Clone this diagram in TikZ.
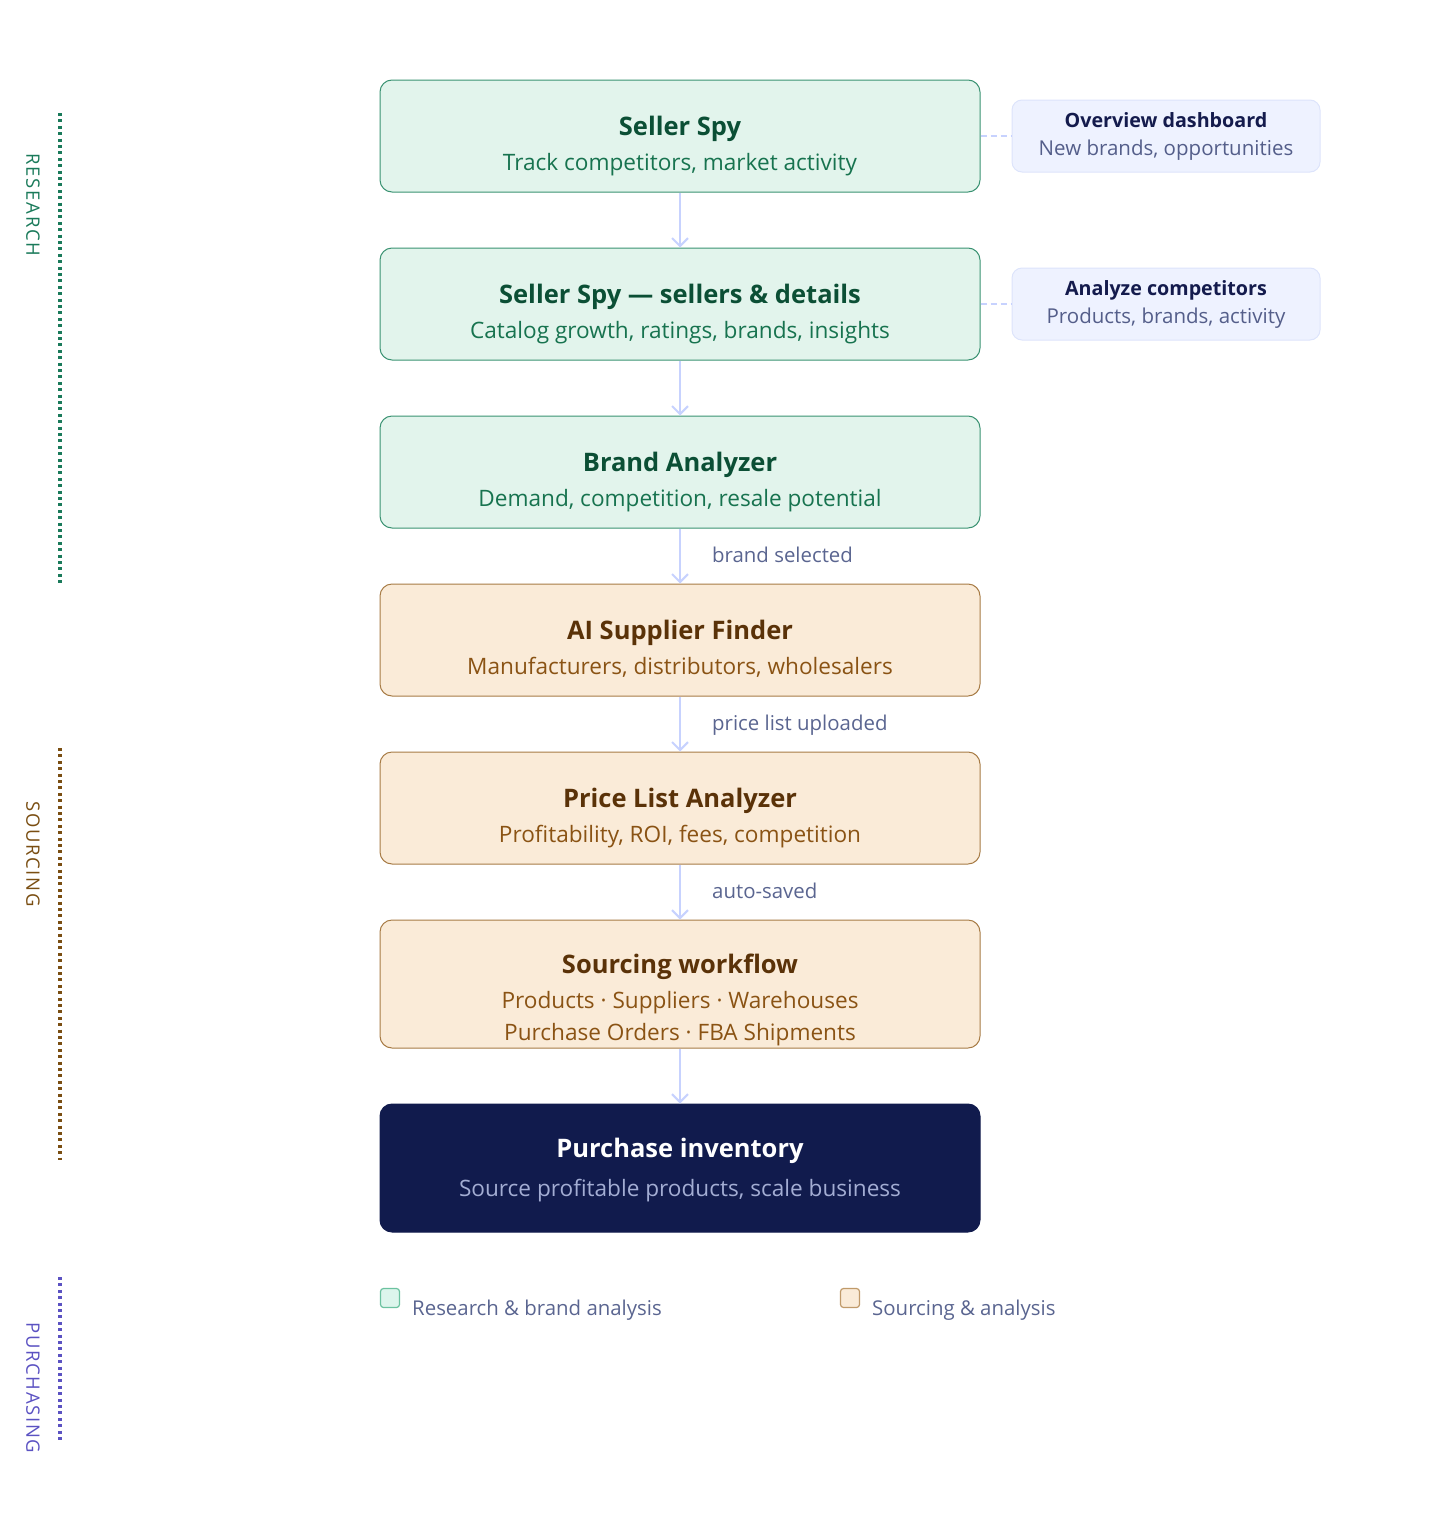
\documentclass[tikz,border=0pt]{standalone}
\usepackage{fontspec}
\setmainfont{Open Sans}
\newfontfamily\phasefont[LetterSpace=9]{Open Sans}
\usetikzlibrary{arrows.meta}
\definecolor{gfill}{HTML}{E2F4EC}
\definecolor{gline}{HTML}{3A9272}
\definecolor{gtitle}{HTML}{0B4F35}
\definecolor{gsub}{HTML}{17734F}
\definecolor{ofill}{HTML}{FAEBD8}
\definecolor{oline}{HTML}{A77B45}
\definecolor{otitle}{HTML}{5A3208}
\definecolor{osub}{HTML}{8A5314}
\definecolor{sfill}{HTML}{EEF2FF}
\definecolor{sline}{HTML}{DDE4FB}
\definecolor{stitle}{HTML}{141B4D}
\definecolor{ssub}{HTML}{545E8A}
\definecolor{navy}{HTML}{111B4D}
\definecolor{navysub}{HTML}{A3ADD3}
\definecolor{arrowc}{HTML}{C7D2FE}
\definecolor{lbl}{HTML}{5A6590}
\definecolor{pres}{HTML}{1A7A5A}
\definecolor{psrc}{HTML}{7A4E12}
\definecolor{ppur}{HTML}{5B52C2}
\definecolor{lgfill}{HTML}{DDF5EC}
\definecolor{lgline}{HTML}{6CC2A0}
\definecolor{lofill}{HTML}{FAEBD8}
\definecolor{loline}{HTML}{C09A6A}
\begin{document}
\begin{tikzpicture}[x=1pt,y=-1pt,
  box/.style={draw, line width=1pt, rounded corners=12pt, minimum width=600pt, inner sep=0pt},
  gbox/.style={box, fill=gfill, draw=gline, minimum height=112pt},
  obox/.style={box, fill=ofill, draw=oline, minimum height=112pt},
  nbox/.style={box, fill=navy, draw=navy, minimum height=128pt},
  sbox/.style={draw=sline, fill=sfill, line width=1pt, rounded corners=10pt, minimum width=308pt, minimum height=72pt, inner sep=0pt},
  ttl/.style={anchor=base, inner sep=0pt, font=\fontsize{25.5}{30}\selectfont\bfseries},
  sub/.style={anchor=base, inner sep=0pt, font=\fontsize{22.6}{26}\selectfont},
  sttl/.style={anchor=base, inner sep=0pt, font=\fontsize{19.7}{24}\selectfont\bfseries, text=stitle},
  ssb/.style={anchor=base, inner sep=0pt, font=\fontsize{20.5}{24}\selectfont, text=ssub},
  elbl/.style={anchor=base west, inner sep=0pt, font=\fontsize{20.4}{24}\selectfont, text=lbl},
  flow/.style={draw=arrowc, line width=2pt, -{Straight Barb[length=8pt,width=16pt,line width=2pt]}},
  side/.style={draw=arrowc, line width=1.2pt, dash pattern=on 6pt off 4pt},
  phase/.style={line width=3.5pt, dash pattern=on 3pt off 3.4pt},
  plbl/.style={rotate=-90, inner sep=0pt, font=\fontsize{18.5}{20}\selectfont\phasefont},
  lsq/.style={line width=1.2pt, rounded corners=3pt, minimum size=19pt, inner sep=0pt},
  ltxt/.style={anchor=base west, inner sep=0pt, font=\fontsize{20.4}{24}\selectfont, text=lbl}
]
\useasboundingbox (0,0) rectangle (1440,1520);

% main boxes
\node[gbox] (b1) at (680,136) {};
\node[gbox] (b2) at (680,304) {};
\node[gbox] (b3) at (680,472) {};
\node[obox] (b4) at (680,640) {};
\node[obox] (b5) at (680,808) {};
\node[obox, minimum height=128pt] (b6) at (680,984) {};
\node[nbox] (b7) at (680,1168) {};

\node[ttl, text=gtitle] (b1t) at (680,135) {Seller Spy};
\node[sub, text=gsub] (b1s) at (680,170) {Track competitors, market activity};
\node[ttl, text=gtitle] (b2t) at (680,303) {Seller Spy — sellers \& details};
\node[sub, text=gsub] (b2s) at (680,338) {Catalog growth, ratings, brands, insights};
\node[ttl, text=gtitle] (b3t) at (680,471) {Brand Analyzer};
\node[sub, text=gsub] (b3s) at (680,506) {Demand, competition, resale potential};
\node[ttl, text=otitle] (b4t) at (680,639) {AI Supplier Finder};
\node[sub, text=osub] (b4s) at (680,674) {Manufacturers, distributors, wholesalers};
\node[ttl, text=otitle] (b5t) at (680,807) {Price List Analyzer};
\node[sub, text=osub] (b5s) at (680,842) {Profitability, ROI, fees, competition};
\node[ttl, text=otitle] (b6t) at (680,973) {Sourcing workflow};
\node[sub, text=osub] (b6s) at (680,1008) {Products · Suppliers · Warehouses};
\node[sub, text=osub] (b6u) at (680,1040) {Purchase Orders · FBA Shipments};
\node[ttl, text=white] (b7t) at (680,1157) {Purchase inventory};
\node[sub, text=navysub] (b7s) at (680,1196) {Source profitable products, scale business};

% side boxes
\node[sbox] (s1) at (1166,136) {};
\node[sttl] (s1t) at (1166,127) {Overview dashboard};
\node[ssb] (s1s) at (1166,155) {New brands, opportunities};
\node[sbox] (s2) at (1166,304) {};
\node[sttl] (s2t) at (1166,295) {Analyze competitors};
\node[ssb] (s2s) at (1166,323) {Products, brands, activity};
\draw[side] (b1.east) -- (s1.west);
\draw[side] (b2.east) -- (s2.west);

% flow arrows
\draw[flow] (b1.south) -- (b2.north);
\draw[flow] (b2.south) -- (b3.north);
\draw[flow] (b3.south) -- (b4.north);
\draw[flow] (b4.south) -- (b5.north);
\draw[flow] (b5.south) -- (b6.north);
\draw[flow] (b6.south) -- (b7.north);
\node[elbl] (l1) at (712,562) {brand selected};
\node[elbl] (l2) at (712,730) {price list uploaded};
\node[elbl] (l3) at (712,898) {auto-saved};

% phases
\coordinate (r1) at (60,113); \coordinate (r2) at (60,586);
\coordinate (p1) at (60,748); \coordinate (p2) at (60,1160);
\coordinate (q1) at (60,1277); \coordinate (q2) at (60,1440);
\draw[phase, draw=pres] (r1) -- (r2);
\draw[phase, draw=psrc] (p1) -- (p2);
\draw[phase, draw=ppur] (q1) -- (q2);
\node[plbl, text=pres] (pr) at (33,205) {RESEARCH};
\node[plbl, text=psrc] (ps) at (33,854) {SOURCING};
\node[plbl, text=ppur] (pp) at (33,1388) {PURCHASING};

% legend
\node[lsq, fill=lgfill, draw=lgline] (lg1) at (390,1298) {};
\node[ltxt] (lg1t) at (412,1315) {Research \& brand analysis};
\node[lsq, fill=lofill, draw=loline] (lg2) at (850,1298) {};
\node[ltxt] (lg2t) at (872,1315) {Sourcing \& analysis};
\end{tikzpicture}
\end{document}
